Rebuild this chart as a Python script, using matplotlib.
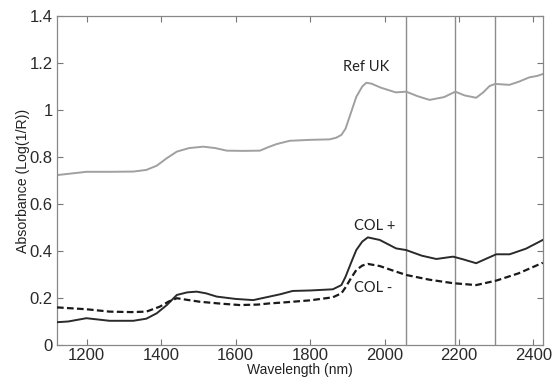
import matplotlib
matplotlib.use("Agg")
import matplotlib.pyplot as plt
from matplotlib.ticker import FuncFormatter

plt.rcParams["font.family"] = ["Liberation Sans", "DejaVu Sans"]

# ── data ────────────────────────────────────────────────────────────────────
ref_wl = [1120, 1160, 1199, 1260, 1325, 1360, 1388, 1415, 1442, 1475, 1513, 1545,
          1576, 1620, 1665, 1691, 1710, 1745, 1800, 1852, 1870, 1884, 1895, 1910,
          1924, 1940, 1951, 1965, 1990, 2030, 2058, 2090, 2121, 2160, 2190, 2215,
          2246, 2265, 2282, 2297, 2335, 2360, 2389, 2410, 2425]
ref_uk = [0.723, 0.730, 0.737, 0.737, 0.738, 0.745, 0.763, 0.795, 0.823, 0.838, 0.844, 0.838,
          0.827, 0.826, 0.827, 0.844, 0.855, 0.869, 0.873, 0.875, 0.882, 0.894, 0.92, 0.99,
          1.056, 1.10, 1.116, 1.112, 1.095, 1.075, 1.078, 1.058, 1.043, 1.055, 1.078, 1.062,
          1.052, 1.075, 1.102, 1.111, 1.107, 1.12, 1.139, 1.145, 1.153]

col_p_wl = [1120, 1150, 1199, 1261, 1325, 1360, 1388, 1415, 1442, 1470, 1495, 1520,
            1549, 1600, 1647, 1691, 1720, 1753, 1800, 1861, 1884, 1895, 1910, 1924,
            1940, 1955, 1987, 2031, 2058, 2100, 2139, 2184, 2210, 2246, 2270, 2300,
            2336, 2380, 2425]
col_plus = [0.097, 0.100, 0.114, 0.103, 0.103, 0.112, 0.135, 0.17, 0.213, 0.224, 0.227, 0.220,
            0.206, 0.196, 0.191, 0.206, 0.216, 0.230, 0.232, 0.237, 0.255, 0.29, 0.35, 0.404,
            0.44, 0.458, 0.447, 0.411, 0.404, 0.380, 0.366, 0.376, 0.365, 0.348, 0.365, 0.386,
            0.386, 0.410, 0.447]

col_m_wl = [1120, 1200, 1261, 1320, 1360, 1396, 1420, 1442, 1470, 1504, 1560, 1611,
            1660, 1691, 1720, 1800, 1861, 1884, 1895, 1910, 1924, 1940, 1955, 1987,
            2020, 2058, 2120, 2184, 2246, 2300, 2360, 2425]
col_minus = [0.160, 0.152, 0.142, 0.140, 0.142, 0.163, 0.185, 0.199, 0.192, 0.184, 0.176, 0.170,
             0.172, 0.177, 0.180, 0.190, 0.203, 0.220, 0.245, 0.285, 0.319, 0.338, 0.345, 0.336,
             0.318, 0.298, 0.278, 0.263, 0.255, 0.274, 0.305, 0.350]

marker_wl = [2058, 2190, 2297]

x_ticks = [1200, 1400, 1600, 1800, 2000, 2200, 2400]
y_ticks = [0, 0.2, 0.4, 0.6, 0.8, 1.0, 1.2, 1.4]

# ── plot ────────────────────────────────────────────────────────────────────
fig = plt.figure(figsize=(5.55, 3.81), dpi=100)
ax = fig.add_axes([0.1027, 0.0945, 0.8753, 0.8635])

for wl in marker_wl:
    ax.axvline(wl, color="#8c8c8c", linewidth=1.0, zorder=1)

ax.plot(ref_wl, ref_uk, color="#a0a0a0", linewidth=1.4, zorder=2)
ax.plot(col_p_wl, col_plus, color="#2a2a2a", linewidth=1.4, zorder=3)
ax.plot(col_m_wl, col_minus, color="#1a1a1a", linewidth=1.6,
        linestyle=(0, (3, 1.5)), zorder=3)

ann_font = ["Lato", "DejaVu Sans"]
ax.text(1950, 1.183, "Ref UK", ha="center", va="center", fontsize=10.5,
        family=ann_font, color="#222222")
ax.text(1973, 0.506, "COL +", ha="center", va="center", fontsize=10.5,
        family=ann_font, color="#222222")
ax.text(1968, 0.243, "COL -", ha="center", va="center", fontsize=10.5,
        family=ann_font, color="#222222")

ax.set_xlim(1120, 2425)
ax.set_ylim(0, 1.4)
ax.set_xticks(x_ticks)
ax.set_yticks(y_ticks)
ax.yaxis.set_major_formatter(FuncFormatter(lambda v, p: f"{v:g}"))

ax.tick_params(direction="in", top=True, right=True, length=4, width=0.8,
               color="#777777", labelsize=12, labelcolor="#2a2a2a", pad=3)
ax.tick_params(axis="x", pad=2)
for s in ax.spines.values():
    s.set_color("#888888")
    s.set_linewidth(0.9)

ax.set_xlabel("Wavelength (nm)", fontsize=10, color="#222222", labelpad=0)
ax.set_ylabel("Absorbance (Log(1/R))", fontsize=10.2, color="#222222", labelpad=0)

plt.savefig("out.png", dpi=100)
plt.close()
